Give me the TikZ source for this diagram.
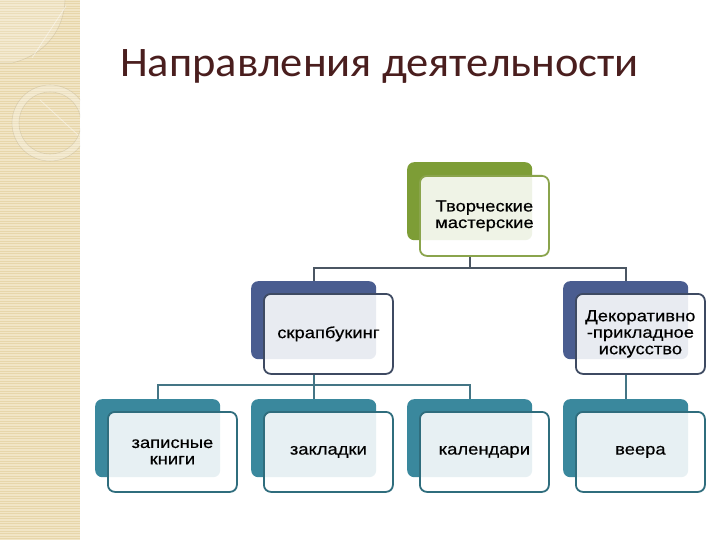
\documentclass[tikz,border=0pt]{standalone}
\usepackage{fontspec}
\setmainfont{Liberation Sans}
\newfontfamily\boxfont[FakeStretch=1.15,FakeBold=0.4]{Liberation Sans}
\newfontfamily\ttlfont[FakeStretch=1.06]{Carlito}
\definecolor{stripbg}{HTML}{F1E5C6}
\definecolor{stripln}{HTML}{E7D6AA}
\definecolor{titlecol}{HTML}{4A1E1E}
\definecolor{gback}{HTML}{7D9D36}
\definecolor{gline}{HTML}{8AA44C}
\definecolor{bback}{HTML}{4A5D90}
\definecolor{bline}{HTML}{3E4A62}
\definecolor{tback}{HTML}{3A889D}
\definecolor{tline}{HTML}{2F6D7D}
\definecolor{connA}{HTML}{4B5663}
\definecolor{connB}{HTML}{447585}
\tikzset{
  backbox/.style={rectangle, rounded corners=7pt, minimum width=125pt, minimum height=78pt, anchor=north west, inner sep=0pt, fill=#1},
  frontbox/.style={rectangle, rounded corners=7pt, minimum width=129pt, minimum height=80pt, anchor=north west, inner sep=0pt, fill=white, fill opacity=0.88, text opacity=1, draw=#1, line width=1.8pt, align=center, text width=124pt, font=\boxfont\fontsize{16}{16.5}\selectfont},
  conn/.style={draw=#1, line width=1.7pt}
}
\begin{document}
\begin{tikzpicture}[x=1pt,y=-1pt]
\useasboundingbox (0,0) rectangle (720,540);
\fill[white] (0,0) rectangle (720,540);
% left decorative strip
\fill[stripbg] (0,0) rectangle (80,540);
\foreach \yy in {1,3.5,...,540} {\draw[stripln, line width=0.7pt] (0,\yy) -- (80,\yy);}
\begin{scope}
\clip (0,0) rectangle (80,540);
\fill[white, opacity=0.18] (0,0) -- (65,0) .. controls (64,30) and (45,55) .. (12,63) -- (0,63) -- cycle;
\draw[stripln!75!black, opacity=0.3, line width=0.6pt] (65,0) .. controls (64,30) and (45,55) .. (12,63) -- (0,63);
\draw[white, opacity=0.45, line width=0.8pt] (66,6) -- (32,58);
\fill[white!70!stripbg, opacity=0.35, even odd rule] (50,123) circle (38) (50,123) circle (31);
\draw[stripln!75!black, opacity=0.3, line width=0.6pt] (50,123) circle (38) (50,123) circle (31);
\draw[white, opacity=0.45, line width=0.8pt] (40,100) -- (78,135);
\end{scope}
% title
\node[anchor=base west, inner sep=0pt, text=titlecol, font=\ttlfont\fontsize{42}{48}\selectfont] (title) at (120,77) {Направления деятельности};
% helper rows for the connector buses
\coordinate (h1) at (0,268);
\coordinate (h2) at (0,385);
% boxes
\node[backbox=gback] (t0b) at (407,162) {};
\node[backbox=bback] (l2ab) at (251,281) {};
\node[backbox=bback] (l2bb) at (563,281) {};
\node[backbox=tback] (l3ab) at (95,399) {};
\node[backbox=tback] (l3bb) at (251,399) {};
\node[backbox=tback] (l3cb) at (407,399) {};
\node[backbox=tback] (l3db) at (563,399) {};
\node[frontbox=gline] (t0) at (419,175) {Творческие\\мастерские};
\node[frontbox=bline] (l2a) at (263,293) {скрапбукинг};
\node[frontbox=bline] (l2b) at (575,293) {Декоративно\\-прикладное\\искусство};
\node[frontbox=tline] (l3a) at (107,411) {записные\\книги};
\node[frontbox=tline] (l3b) at (263,411) {закладки};
\node[frontbox=tline] (l3c) at (419,411) {календари};
\node[frontbox=tline] (l3d) at (575,411) {веера};
% connectors
\draw[conn=connA] (t0b.south |- t0.south) -- (t0b.south |- h1) -| (l2ab.north);
\draw[conn=connA] (t0b.south |- h1) -| (l2bb.north);
\draw[conn=connB] (l2ab.south |- l2a.south) -- (l3bb.north);
\draw[conn=connB] (l2ab.south |- h2) -| (l3ab.north);
\draw[conn=connB] (l2ab.south |- h2) -| (l3cb.north);
\draw[conn=connB] (l2bb.south |- l2b.south) -- (l3db.north);
\end{tikzpicture}
\end{document}
